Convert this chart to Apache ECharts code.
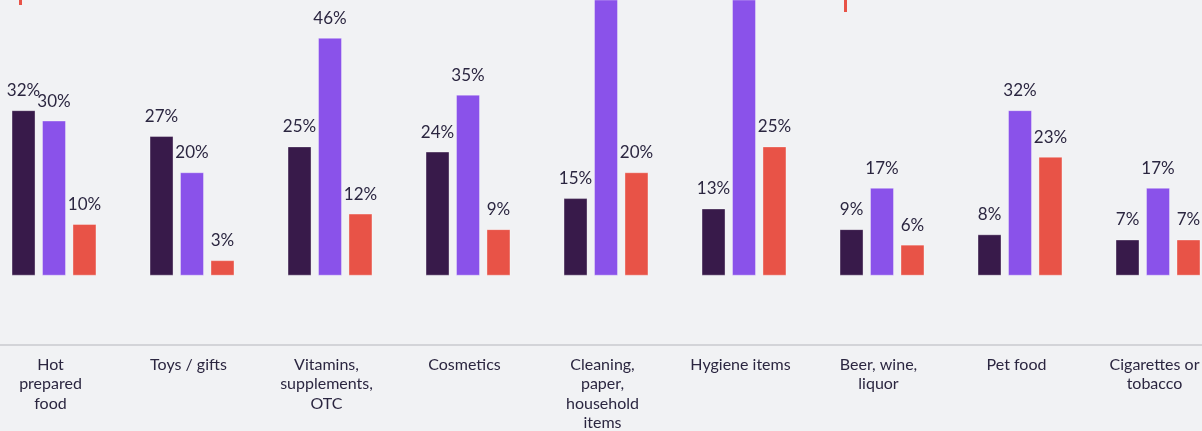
<!DOCTYPE html>
<html>
<head>
<meta charset="utf-8">
<script src="https://cdn.jsdelivr.net/npm/echarts@6/dist/echarts.min.js"></script>
<style>
html,body{margin:0;padding:0;background:#f1f2f4;overflow:hidden;width:1202px;height:431px;}
#chart{width:1242px;height:431px;margin-left:-15px;}
</style>
</head>
<body>
<div id="chart"></div>
<script>
const categories = ["Hot\nprepared\nfood", "Toys / gifts", "Vitamins,\nsupplements,\nOTC", "Cosmetics", "Cleaning,\npaper,\nhousehold\nitems", "Hygiene items", "Beer, wine,\nliquor", "Pet food", "Cigarettes or\ntobacco"];
const seriesA = [32, 27, 25, 24, 15, 13, 9, 8, 7];
const seriesB = [30, 20, 46, 35, 60, 58, 17, 32, 17];
const seriesC = [10, 3, 12, 9, 20, 25, 6, 23, 7];
const seriesNames = ["Series 1", "Series 2", "Series 3"];
const colors = ["#381a4a", "#8a52ea", "#e85347"];

const chart = echarts.init(document.getElementById('chart'));
const font = "Lato, 'Noto Sans', sans-serif";
function mk(name, data, color) {
  return {
    name: name, type: 'bar', data: data, barWidth: 24, barGap: '27%',
    itemStyle: { color: color, borderColor: 'rgba(255,255,255,0.35)', borderWidth: 1 },
    label: { show: true, position: 'top', distance: 11, formatter: '{c}%', color: '#2b2640', fontSize: 17, fontFamily: font },
    silent: true
  };
}
chart.setOption({
  backgroundColor: '#f1f2f4',
  animation: false,
  grid: { left: 0, right: 0, top: 0, bottom: 86, containLabel: false, outerBoundsMode: 'none' },
  xAxis: {
    type: 'category', data: categories,
    axisLine: { show: true, onZero: false, lineStyle: { color: '#d3d4d8', width: 2 } },
    axisTick: { show: false },
    axisLabel: { color: '#2b2640', fontSize: 16, fontFamily: font, lineHeight: 19.5, margin: 10, interval: 0, padding: [0, 7, 0, 0] }
  },
  yAxis: { type: 'value', min: -13.4, max: 53.3, show: false, splitLine: { show: false } },
  series: [mk(seriesNames[0], seriesA, colors[0]), mk(seriesNames[1], seriesB, colors[1]), mk(seriesNames[2], seriesC, colors[2])],
  graphic: [
    { type: 'rect', left: 34, top: 0, shape: { width: 3, height: 5 }, style: { fill: '#e85347' } },
    { type: 'rect', left: 859, top: 0, shape: { width: 3, height: 12 }, style: { fill: '#e85347' } }
  ]
});
</script>
</body>
</html>
